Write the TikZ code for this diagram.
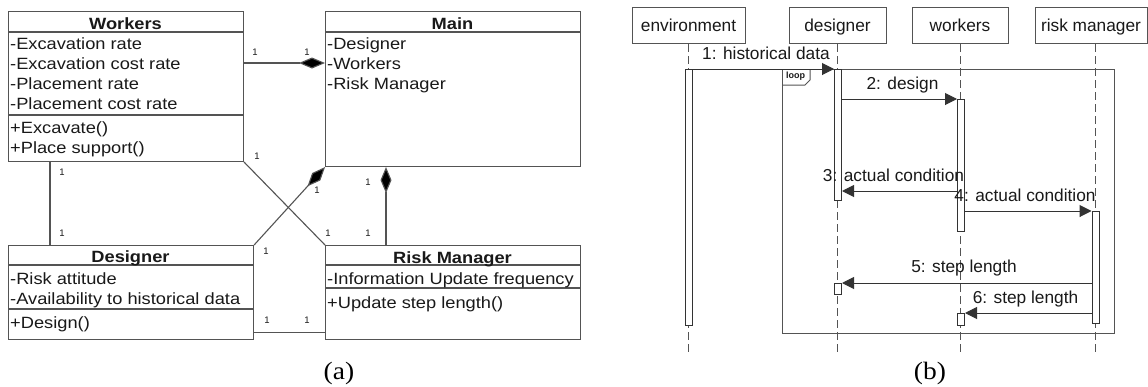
\documentclass[tikz,border=0pt]{standalone}
\usepackage{fontspec}
\usetikzlibrary{arrows.meta,calc}
\newfontfamily\umlf[FakeStretch=1.12]{Liberation Sans}
\newfontfamily\seqf{Liberation Sans}
\newfontfamily\capf[FakeStretch=1.1]{Liberation Serif}
\definecolor{lc}{rgb}{0.33,0.33,0.33}
\definecolor{tc}{rgb}{0.1,0.1,0.1}
\tikzset{
  cls/.style={draw=lc, line width=1.1pt, fill=white, anchor=north west, inner sep=0pt},
  sep/.style={draw=lc, line width=1.1pt},
  attr/.style={anchor=base west, inner sep=0pt, text=tc, font=\umlf\fontsize{16.3}{18}\selectfont},
  ttl/.style={anchor=base, inner sep=0pt, text=tc, font=\umlf\bfseries\fontsize{16.3}{18}\selectfont},
  mult/.style={inner sep=0pt, text=tc, font=\seqf\fontsize{9.5}{10}\selectfont},
  conn/.style={draw=lc, line width=1.1pt},
  comp/.style={conn, -{Diamond[length=26pt,width=11pt,fill=black]}},
  head/.style={draw=lc, line width=1pt, fill=white, anchor=north west, inner sep=0pt},
  htxt/.style={anchor=base, inner sep=0pt, text=tc, font=\seqf\fontsize{17.3}{19}\selectfont},
  life/.style={draw=lc, line width=1pt, dash pattern=on 8pt off 4pt},
  bar/.style={draw=black!80, line width=1pt, fill=white, anchor=north west, inner sep=0pt},
  msg/.style={draw=black!80, line width=1pt, -{Triangle[length=12pt,width=12pt]}},
  mtxt/.style={anchor=base, inner sep=0pt, text=tc, font=\seqf\fontsize{17.3}{19}\selectfont},
  frm/.style={draw=lc, line width=1pt},
  captxt/.style={anchor=base, inner sep=0pt, text=black, font=\capf\fontsize{25}{27}\selectfont}
}
\begin{document}
\begin{tikzpicture}[x=1pt,y=-1pt]
\useasboundingbox[fill=white] (0,0) rectangle (1148,386);

% ---------- (a) class diagram ----------
\node[cls, minimum width=235pt, minimum height=150pt] (workers) at (8,11) {};
\node[cls, minimum width=255pt, minimum height=155pt] (main) at (325,11) {};
\node[cls, minimum width=245pt, minimum height=94pt] (designer) at (8,245) {};
\node[cls, minimum width=255pt, minimum height=94pt] (rm) at (325,245) {};

\draw[sep] (8,32) -- (243,32);
\draw[sep] (8,115) -- (243,115);
\draw[sep] (325,32) -- (580,32);
\draw[sep] (8,265) -- (253,265);
\draw[sep] (8,309) -- (253,309);
\draw[sep] (325,265) -- (580,265);
\draw[sep] (325,288) -- (580,288);

\node[ttl] (tw) at (125.5,29) {Workers};
\node[attr] (w1) at (10,49) {-Excavation rate};
\node[attr] (w2) at (10,69) {-Excavation cost rate};
\node[attr] (w3) at (10,89) {-Placement rate};
\node[attr] (w4) at (10,109) {-Placement cost rate};
\node[attr] (w5) at (10,133) {+Excavate()};
\node[attr] (w6) at (10,153) {+Place support()};

\node[ttl] (tm) at (452.5,29) {Main};
\node[attr] (m1) at (327,49) {-Designer};
\node[attr] (m2) at (327,69) {-Workers};
\node[attr] (m3) at (327,89) {-Risk Manager};

\node[ttl] (td) at (130.5,262) {Designer};
\node[attr] (d1) at (10,284) {-Risk attitude};
\node[attr] (d2) at (10,304) {-Availability to historical data};
\node[attr] (d3) at (10,328) {+Design()};

\node[ttl] (tr) at (452.5,263) {Risk Manager};
\node[attr] (r1) at (327,284) {-Information Update frequency};
\node[attr] (r2) at (327,308) {+Update step length()};

% connectors
\draw[comp] ($(workers.north east)+(0,52)$) -- ($(main.north west)+(0,52)$);
\draw[conn] ($(workers.south west)+(42,0)$) -- ($(designer.north west)+(42,0)$);
\draw[conn] (workers.south east) -- (rm.north west);
\draw[comp] (designer.north east) -- (main.south west);
\draw[comp] ($(rm.north west)+(61,0)$) -- ($(main.south west)+(61,0)$);
\draw[conn] ($(designer.south east)+(0,-8)$) -- ($(rm.south west)+(0,-8)$);

\node[mult] (l1a) at (255,52) {1};
\node[mult] (l1b) at (307,52) {1};
\node[mult] (l2a) at (62,172) {1};
\node[mult] (l2b) at (62,233) {1};
\node[mult] (l3a) at (257,156) {1};
\node[mult] (l3b) at (328,233) {1};
\node[mult] (l4a) at (266,251) {1};
\node[mult] (l4b) at (317,190) {1};
\node[mult] (l5a) at (368,182) {1};
\node[mult] (l5b) at (368,233) {1};
\node[mult] (l6a) at (267,320) {1};
\node[mult] (l6b) at (307,320) {1};

\node[captxt] (capa) at (339,379) {(a)};

% ---------- (b) sequence diagram ----------
\node[head, minimum width=113pt, minimum height=36pt] (henv) at (632,7) {};
\node[head, minimum width=97pt, minimum height=36pt] (hdes) at (789,7) {};
\node[head, minimum width=96pt, minimum height=36pt] (hwor) at (912,7) {};
\node[head, minimum width=112pt, minimum height=36pt] (hrm) at (1035,7) {};
\node[htxt] (tenv) at (688.5,31) {environment};
\node[htxt] (tdes) at (837.5,31) {designer};
\node[htxt] (twor) at (960,31) {workers};
\node[htxt] (trm) at (1091,31) {risk manager};

\coordinate (eenv) at (688.5,353);
\coordinate (edes) at (837.5,353);
\coordinate (ewor) at (960.5,353);
\coordinate (erm) at (1095,353);
\draw[life] (henv.south -| eenv) -- (eenv);
\draw[life] (hdes.south -| edes) -- (edes);
\draw[life] (hwor.south -| ewor) -- (ewor);
\draw[life] (hrm.south -| erm) -- (erm);

% loop frame
\draw[frm] (782,69) rectangle (1114,333);
\draw[frm] (782,85) -- (805,85) -- (810,80) -- (810,69);
\node[inner sep=0pt, text=tc, font=\seqf\bfseries\fontsize{9}{10}\selectfont] (loop) at (795.5,76.5) {loop};

% activation bars
\node[bar, minimum width=7pt, minimum height=256pt] (benv) at (685,69) {};
\node[bar, minimum width=7pt, minimum height=131pt] (bdes) at (834,69) {};
\node[bar, minimum width=7pt, minimum height=11pt] (bdes2) at (834,283) {};
\node[bar, minimum width=7pt, minimum height=132pt] (bwor) at (957,99) {};
\node[bar, minimum width=7pt, minimum height=12pt] (bwor2) at (957,313) {};
\node[bar, minimum width=7pt, minimum height=112pt] (brm) at (1091.5,211) {};

% messages
\draw[msg] (benv.north east) -- (bdes.north west);
\draw[msg] (bdes.east |- bwor.north) -- (bwor.north west);
\draw[msg] (bwor.west |- 0,191) -- (bdes.east |- 0,191);
\draw[msg] (bwor.east |- brm.north) -- (brm.north west);
\draw[msg] (brm.west |- bdes2.north) -- (bdes2.north east);
\draw[msg] (brm.west |- bwor2.north) -- (bwor2.north east);

\node[mtxt] (t1) at (766,59) {1: historical data};
\node[mtxt] (t2) at (902.5,89) {2: design};
\node[mtxt] (t3) at (893.5,181) {3: actual condition};
\node[mtxt] (t4) at (1025,201) {4: actual condition};
\node[mtxt] (t5) at (964,272) {5: step length};
\node[mtxt] (t6) at (1025.5,303) {6: step length};

\node[captxt] (capb) at (930,379) {(b)};
\end{tikzpicture}
\end{document}
